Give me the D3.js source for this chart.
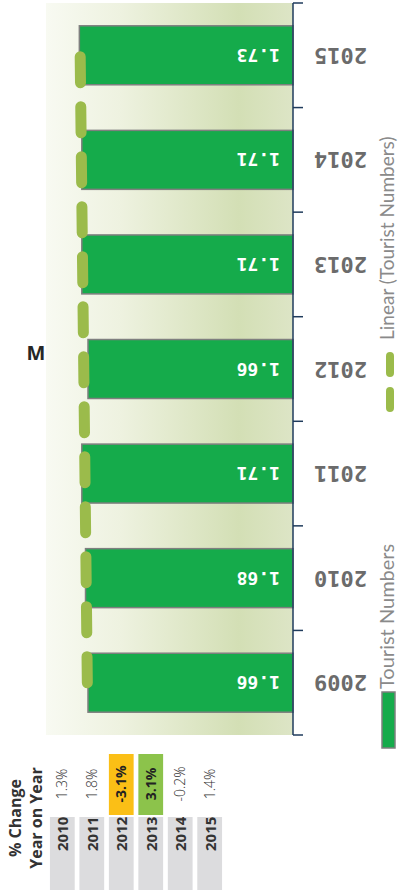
<!DOCTYPE html>
<html>
<head>
<meta charset="utf-8">
<script src="https://cdn.jsdelivr.net/npm/d3@7"></script>
<style>
  html, body { margin: 0; padding: 0; background: #fff; }
  svg { display: block; }
</style>
</head>
<body>
<div id="chart"></div>
<script>
// Tourist numbers (millions) per year
const years = ["2009", "2010", "2011", "2012", "2013", "2014", "2015"];
const touristNumbers = [1.66, 1.68, 1.71, 1.66, 1.71, 1.71, 1.73];

// Year-on-year change table
const changeYears = ["2010", "2011", "2012", "2013", "2014", "2015"];
const changeLabels = ["1.3%", "1.8%", "-3.1%", "3.1%", "-0.2%", "1.4%"];
const changeHighlight = [null, null, "down", "up", null, null];

const valueTicks = [0, 2];

const W = 398, H = 890;
const svg = d3.select("#chart").append("svg")
  .attr("width", W).attr("height", H);

const axisX = 293, plotLeft = 46, plotTop = 3, plotBottom = 735;

const x = d3.scaleLinear().domain(valueTicks).range([axisX, plotLeft]);
const y = d3.scaleBand().domain(years).range([plotBottom, plotTop])
  .paddingInner(0.436).paddingOuter(0.218);

// plot area background
const defs = svg.append("defs");
const grad = defs.append("linearGradient").attr("id", "plotBg")
  .attr("gradientUnits", "userSpaceOnUse")
  .attr("x1", plotLeft).attr("x2", axisX).attr("y1", 0).attr("y2", 0);
[[0, "#f8faf2"], [0.3, "#eef2e0"], [0.78, "#d3dfb5"], [1, "#dde5c6"]]
  .forEach(([o, c]) => grad.append("stop").attr("offset", o).attr("stop-color", c));

svg.append("rect")
  .attr("x", plotLeft).attr("y", plotTop)
  .attr("width", axisX - plotLeft).attr("height", plotBottom - plotTop)
  .attr("fill", "url(#plotBg)");

// bars
const data = years.map((yr, i) => ({ year: yr, value: touristNumbers[i] }));
svg.append("g").selectAll("rect").data(data).join("rect")
  .attr("x", d => x(d.value))
  .attr("y", d => y(d.year))
  .attr("width", d => axisX - x(d.value))
  .attr("height", y.bandwidth())
  .attr("fill", "#15ab4b")
  .attr("stroke", "#7f7f7f")
  .attr("stroke-width", 1.5);

// value labels inside bars
svg.append("g").selectAll("text").data(data).join("text")
  .attr("transform", d => `translate(${axisX - 13},${y(d.year) + y.bandwidth() / 2}) rotate(180)`)
  .attr("text-anchor", "start")
  .attr("dominant-baseline", "central")
  .attr("font-family", "'DejaVu Sans Mono', monospace")
  .attr("font-weight", "bold")
  .attr("font-size", 18)
  .attr("fill", "#ffffff")
  .text(d => d.value.toFixed(2));

// linear trend of tourist numbers
const n = touristNumbers.length;
const meanI = d3.mean(d3.range(n));
const meanV = d3.mean(touristNumbers);
const slope = d3.sum(d3.range(n), i => (i - meanI) * (touristNumbers[i] - meanV)) /
              d3.sum(d3.range(n), i => (i - meanI) ** 2);
const trend = d3.range(n).map(i => ({ year: years[i], value: meanV + slope * (i - meanI) }));

svg.append("path")
  .datum([trend[0], trend[n - 1]])
  .attr("d", d3.line().x(d => x(d.value)).y(d => y(d.year) + y.bandwidth() / 2))
  .attr("fill", "none")
  .attr("stroke", "#9bbb4b")
  .attr("stroke-width", 11)
  .attr("stroke-linecap", "round")
  .attr("stroke-dasharray", "26 24");

// category axis
const step = y.step();
const boundaries = years.map(yr => y(yr) - step * y.paddingInner() / 2);
boundaries.push(plotBottom);
const axisG = svg.append("g");
axisG.append("line")
  .attr("x1", axisX).attr("x2", axisX)
  .attr("y1", plotTop).attr("y2", plotBottom)
  .attr("stroke", "#1f3b5c").attr("stroke-width", 1.5);
axisG.selectAll("line.tick").data(boundaries).join("line")
  .attr("class", "tick")
  .attr("x1", axisX).attr("x2", axisX + 10)
  .attr("y1", d => d).attr("y2", d => d)
  .attr("stroke", "#1f3b5c").attr("stroke-width", 1.5);

axisG.selectAll("text").data(years).join("text")
  .attr("transform", d => `translate(367,${y(d) + y.bandwidth() / 2}) rotate(180)`)
  .attr("text-anchor", "start")
  .attr("dominant-baseline", "central")
  .attr("font-family", "'DejaVu Sans Mono', monospace")
  .attr("font-weight", "bold")
  .attr("font-size", 22)
  .attr("fill", "#6b6b6b")
  .text(d => d);

// value axis unit
svg.append("text")
  .attr("x", 36).attr("y", 360)
  .attr("text-anchor", "middle")
  .attr("font-family", "'Open Sans', sans-serif")
  .attr("font-weight", "bold")
  .attr("font-size", 20)
  .attr("fill", "#262626")
  .text("M");

// legend
const legend = svg.append("g");
legend.append("rect")
  .attr("x", 382).attr("y", 692).attr("width", 13).attr("height", 56)
  .attr("fill", "#15ab4b").attr("stroke", "#7f7f7f").attr("stroke-width", 1.5);
legend.append("text")
  .attr("transform", "translate(394,689) rotate(-90)")
  .attr("font-family", "Lato, 'Open Sans', sans-serif")
  .attr("font-size", 20)
  .attr("fill", "#8a8a8a")
  .text("Tourist Numbers");

legend.append("line")
  .attr("x1", 390).attr("x2", 390).attr("y1", 408).attr("y2", 356)
  .attr("stroke", "#9bbb4b").attr("stroke-width", 8)
  .attr("stroke-linecap", "round")
  .attr("stroke-dasharray", "17 18");
legend.append("text")
  .attr("transform", "translate(394,340) rotate(-90)")
  .attr("font-family", "Lato, 'Open Sans', sans-serif")
  .attr("font-size", 19)
  .attr("fill", "#8a8a8a")
  .text("Linear (Tourist Numbers)");

// year-on-year change table
const table = svg.append("g");
const title = table.append("text")
  .attr("transform", "translate(0,818) rotate(-90)")
  .attr("text-anchor", "middle")
  .attr("font-family", "'Open Sans', sans-serif")
  .attr("font-weight", "bold")
  .attr("font-size", 16)
  .attr("fill", "#333");
title.append("tspan").attr("x", 0).attr("y", 21).text("% Change");
title.append("tspan").attr("x", 0).attr("y", 42).text("Year on Year");

const colX = d3.scaleBand().domain(changeYears).range([47, 225]).paddingInner(0.16).paddingOuter(0.1);
const cells = table.selectAll("g.cell").data(changeYears.map((yr, i) => ({
  year: yr, label: changeLabels[i], hl: changeHighlight[i]
}))).join("g").attr("class", "cell");

cells.append("rect")
  .attr("x", d => colX(d.year)).attr("y", 817)
  .attr("width", colX.bandwidth()).attr("height", 73)
  .attr("fill", "#dcdcde");
cells.append("text")
  .attr("transform", d => `translate(${colX(d.year) + colX.bandwidth() / 2 + 6},851) rotate(-90)`)
  .attr("font-family", "'Open Sans', sans-serif")
  .attr("font-weight", "bold")
  .attr("font-size", 15)
  .attr("fill", "#333")
  .text(d => d.year);

cells.filter(d => d.hl).append("rect")
  .attr("x", d => colX(d.year)).attr("y", 754)
  .attr("width", colX.bandwidth()).attr("height", 61)
  .attr("fill", d => d.hl === "down" ? "#fbbf16" : "#8cc34b");
cells.append("text")
  .attr("transform", d => `translate(${colX(d.year) + colX.bandwidth() / 2 + 5},784) rotate(-90)`)
  .attr("text-anchor", "middle")
  .attr("font-family", "'Open Sans', sans-serif")
  .attr("font-weight", d => d.hl ? "bold" : 300)
  .attr("font-size", 14)
  .attr("fill", d => d.hl ? "#222" : "#333")
  .text(d => d.label);
</script>
</body>
</html>
